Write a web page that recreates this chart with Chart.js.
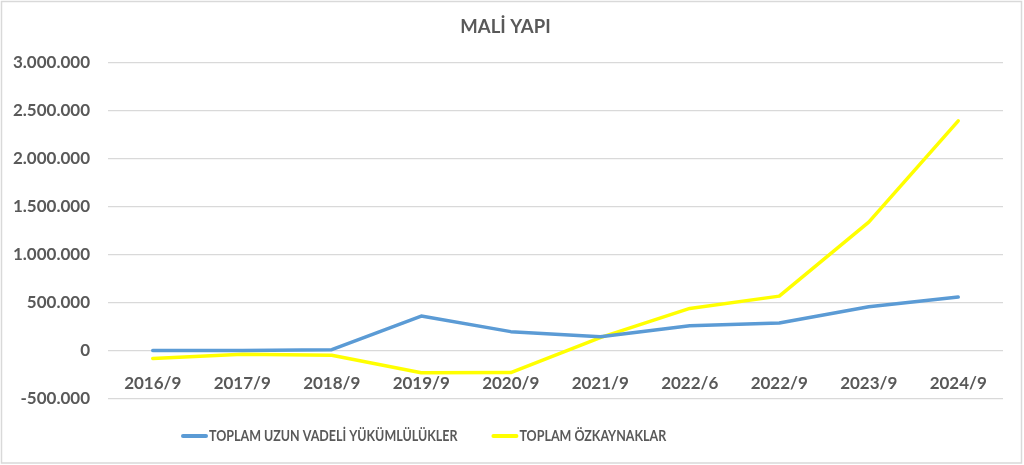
<!DOCTYPE html>
<html>
<head>
<meta charset="utf-8">
<script src="https://cdn.jsdelivr.net/npm/chart.js@4.4.1/dist/chart.umd.min.js"></script>
<style>
    body { margin: 0; background: #ffffff; }
    #divChartMali { width: 1024px; height: 465px; }
</style>
</head>
<body>
<div id="divChartMali"><canvas id="chartMali"></canvas></div>
<script>
// categories and series (values in TL thousands)
var periods = ['2016/9', '2017/9', '2018/9', '2019/9', '2020/9', '2021/9', '2022/6', '2022/9', '2023/9', '2024/9'];
var longTermLiabilities = [3000, 4000, 12000, 362000, 200000, 148000, 262000, 290000, 459000, 559000];
var totalEquity = [-79000, -34000, -45000, -228000, -225000, 138000, 441000, 569000, 1338000, 2390000];
var yTickMin = -500000, yTickMax = 3000000, yTickStep = 500000;

var textColor = '#595959';
var gridColor = '#d9d9d9';
var fontFamily = 'Lato, "Open Sans", sans-serif';

function formatDots(value) {
    // 1500000 -> 1.500.000
    var s = Math.abs(value).toString().replace(/\B(?=(\d{3})+(?!\d))/g, '.');
    return (value < 0 ? '-' : '') + s;
}

// white background and the thin frame round the whole chart
var framePlugin = {
    id: 'frame',
    beforeDraw: function(chart) {
        var ctx = chart.ctx;
        ctx.save();
        ctx.fillStyle = '#ffffff';
        ctx.fillRect(0, 0, chart.width, chart.height);
        ctx.strokeStyle = gridColor;
        ctx.lineWidth = 1.5;
        ctx.strokeRect(1.5, 1.5, chart.width - 4, chart.height - 3.5);
        ctx.restore();
    }
};

// legend drawn under the plot, left of centre like the original
// (text squeezed a little, the original uses a narrow font)
var bottomLegend = {
    id: 'bottomLegend',
    afterDraw: function(chart) {
        var ctx = chart.ctx;
        var squeeze = 0.78;
        var x = 181, y = 436;
        ctx.save();
        ctx.font = 'bold 16px ' + fontFamily;
        ctx.textBaseline = 'middle';
        ctx.textAlign = 'left';
        chart.data.datasets.forEach(function(ds) {
            ctx.strokeStyle = ds.borderColor;
            ctx.lineWidth = 4;
            ctx.lineCap = 'round';
            ctx.beginPath();
            ctx.moveTo(x + 2, y);
            ctx.lineTo(x + 25, y);
            ctx.stroke();

            var w = ctx.measureText(ds.label).width * squeeze;
            ctx.save();
            ctx.translate(x + 28, y);
            ctx.scale(squeeze, 1);
            ctx.fillStyle = textColor;
            ctx.fillText(ds.label, 0, 0);
            ctx.restore();
            x += 28 + w + 34;
        });
        ctx.restore();
    }
};

var ctx = document.getElementById('chartMali');
var myLineChartMali = new Chart(ctx, {
    type: 'line',
    data: {
        labels: periods,
        datasets: [{
            label: 'TOPLAM UZUN VADELİ YÜKÜMLÜLÜKLER',
            data: longTermLiabilities,
            borderColor: '#5b9bd5',
            backgroundColor: '#5b9bd5',
            borderWidth: 3.5,
            borderCapStyle: 'round',
            borderJoinStyle: 'round',
            pointRadius: 0,
            tension: 0,
            fill: false
            },{
            label: 'TOPLAM ÖZKAYNAKLAR',
            data: totalEquity,
            borderColor: '#ffff00',
            backgroundColor: '#ffff00',
            borderWidth: 3.5,
            borderCapStyle: 'round',
            borderJoinStyle: 'round',
            pointRadius: 0,
            tension: 0,
            fill: false
            }
        ]
    },
    options: {
        responsive: true,
        maintainAspectRatio: false,
        animation: false,
        layout: {
            padding: { left: 8, right: 21, top: 0, bottom: 66 }
        },
        plugins: {
            title: {
                display: true,
                text: 'MALİ YAPI',
                color: textColor,
                font: { family: fontFamily, size: 18.5, weight: 'bold' },
                padding: { top: 16, bottom: 24 }
            },
            legend: { display: false },
            tooltip: { enabled: false }
        },
        scales: {
            x: {
                position: { y: 0 },   // category labels sit under the zero line, as in Excel
                offset: true,
                grid: { display: false },
                border: { display: false },
                ticks: {
                    color: textColor,
                    padding: 14,
                    maxRotation: 0,
                    font: { family: fontFamily, size: 17, weight: 'bold' }
                }
            },
            y: {
                min: yTickMin,
                max: yTickMax,
                afterFit: function(axis) { axis.width = 100; },
                grid: { color: gridColor, lineWidth: 1.3, drawTicks: false },
                border: { display: false },
                ticks: {
                    stepSize: yTickStep,
                    color: textColor,
                    padding: 18,
                    font: { family: fontFamily, size: 17, weight: 'bold' },
                    callback: function(value) { return formatDots(value); }
                }
            }
        }
    },
    plugins: [framePlugin, bottomLegend]
});
</script>
</body>
</html>
